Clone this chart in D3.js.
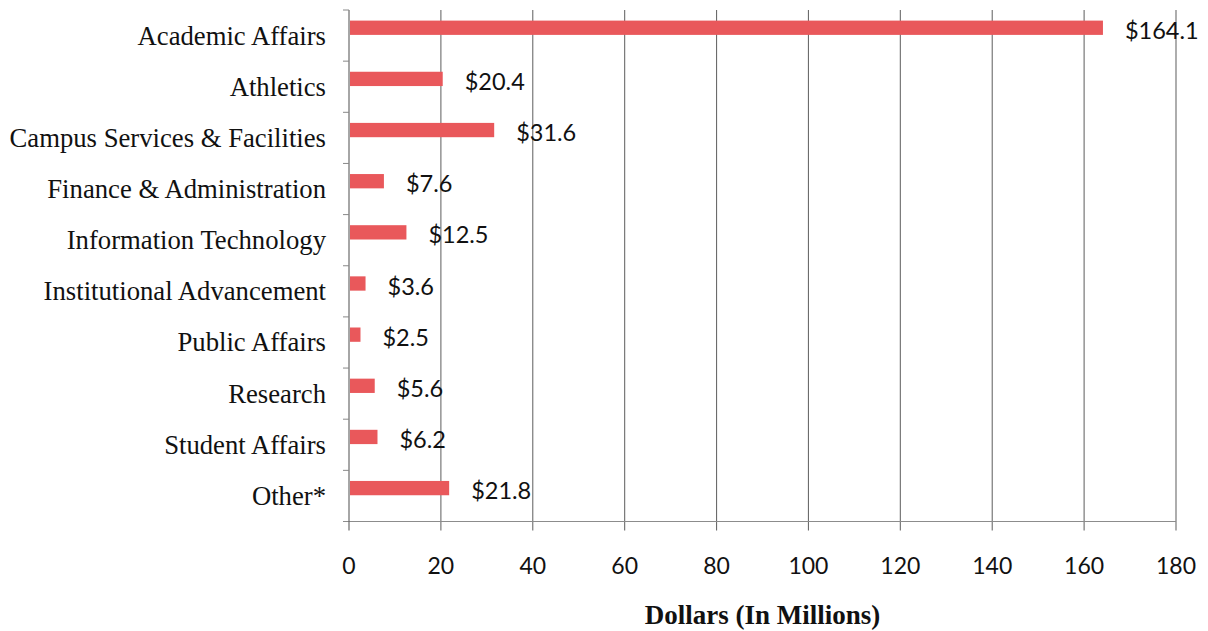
<!DOCTYPE html>
<html>
<head>
<meta charset="utf-8">
<script src="https://cdn.jsdelivr.net/npm/d3@7"></script>
<style>
  body { margin: 0; background: #fff; }
  svg { display: block; }
</style>
</head>
<body>
<div id="chart"></div>
<script>
// Budget by division, dollars in millions
const divisions = [
  "Academic Affairs", "Athletics", "Campus Services & Facilities",
  "Finance & Administration", "Information Technology",
  "Institutional Advancement", "Public Affairs", "Research",
  "Student Affairs", "Other*"
];
const dollars = [164.1, 20.4, 31.6, 7.6, 12.5, 3.6, 2.5, 5.6, 6.2, 21.8];
const xTicks = [0, 20, 40, 60, 80, 100, 120, 140, 160, 180];

function drawChart() {
  const W = 1208, H = 631;
  const left = 349, right = 1176, top = 10, bottom = 521.5;

  const svg = d3.select("#chart").append("svg")
    .attr("width", W)
    .attr("height", H);

  const x = d3.scaleLinear().domain([0, 180]).range([left, right]);
  const y = d3.scaleBand().domain(divisions).range([top, bottom]);

  // vertical gridlines (extend below the axis as tick marks)
  svg.append("g").selectAll("line")
    .data(xTicks.slice(1))
    .enter().append("line")
    .attr("x1", d => x(d)).attr("x2", d => x(d))
    .attr("y1", top).attr("y2", bottom + 9)
    .attr("stroke", "#6b6b6b")
    .attr("stroke-width", 1.1);

  // x axis line
  svg.append("line")
    .attr("x1", left - 6).attr("x2", right)
    .attr("y1", bottom).attr("y2", bottom)
    .attr("stroke", "#8c8c8c")
    .attr("stroke-width", 1.2);

  // y axis line + ticks at band edges
  svg.append("line")
    .attr("x1", left).attr("x2", left)
    .attr("y1", top).attr("y2", bottom + 9)
    .attr("stroke", "#6b6b6b")
    .attr("stroke-width", 1.2);

  const edges = divisions.map(d => y(d));
  svg.append("g").selectAll("line")
    .data(edges)
    .enter().append("line")
    .attr("x1", left - 6).attr("x2", left)
    .attr("y1", d => d).attr("y2", d => d)
    .attr("stroke", "#888")
    .attr("stroke-width", 1);

  // x tick labels
  svg.append("g").selectAll("text")
    .data(xTicks)
    .enter().append("text")
    .attr("x", d => x(d))
    .attr("y", 565)
    .attr("text-anchor", "middle")
    .attr("dominant-baseline", "central")
    .style("font-family", "Lato, 'Open Sans', sans-serif")
    .style("font-size", "23px")
    .style("fill", "#111")
    .text(d => d);

  // category labels
  svg.append("g").selectAll("text")
    .data(divisions)
    .enter().append("text")
    .attr("x", 326)
    .attr("y", d => y(d) + y.bandwidth() / 2)
    .attr("text-anchor", "end")
    .attr("dominant-baseline", "central")
    .style("font-family", "'Liberation Serif', 'Times New Roman', serif")
    .style("font-size", "26.7px")
    .style("fill", "#111")
    .text(d => d);

  // bars (sit in the upper part of each band)
  const barOff = 10.6, barH = 14.3;
  svg.append("g").selectAll("rect")
    .data(dollars)
    .enter().append("rect")
    .attr("x", x(0) + 1)
    .attr("y", (d, i) => y(divisions[i]) + barOff)
    .attr("width", d => x(d) - x(0) - 1)
    .attr("height", barH)
    .attr("fill", "#e9585b");

  // value labels
  svg.append("g").selectAll("text")
    .data(dollars)
    .enter().append("text")
    .attr("x", d => x(d) + 22)
    .attr("y", (d, i) => y(divisions[i]) + barOff + barH / 2 + 2)
    .attr("dominant-baseline", "central")
    .style("font-family", "Lato, 'Open Sans', sans-serif")
    .style("font-size", "23.5px")
    .style("fill", "#111")
    .text(d => "$" + d.toFixed(1));

  // axis title
  svg.append("text")
    .attr("x", (left + right) / 2)
    .attr("y", 624)
    .attr("text-anchor", "middle")
    .style("font-family", "'Liberation Serif', 'Times New Roman', serif")
    .style("font-weight", "bold")
    .style("font-size", "27px")
    .style("fill", "#111")
    .text("Dollars (In Millions)");
}

window.onload = function() {
  drawChart();
};
</script>
</body>
</html>
